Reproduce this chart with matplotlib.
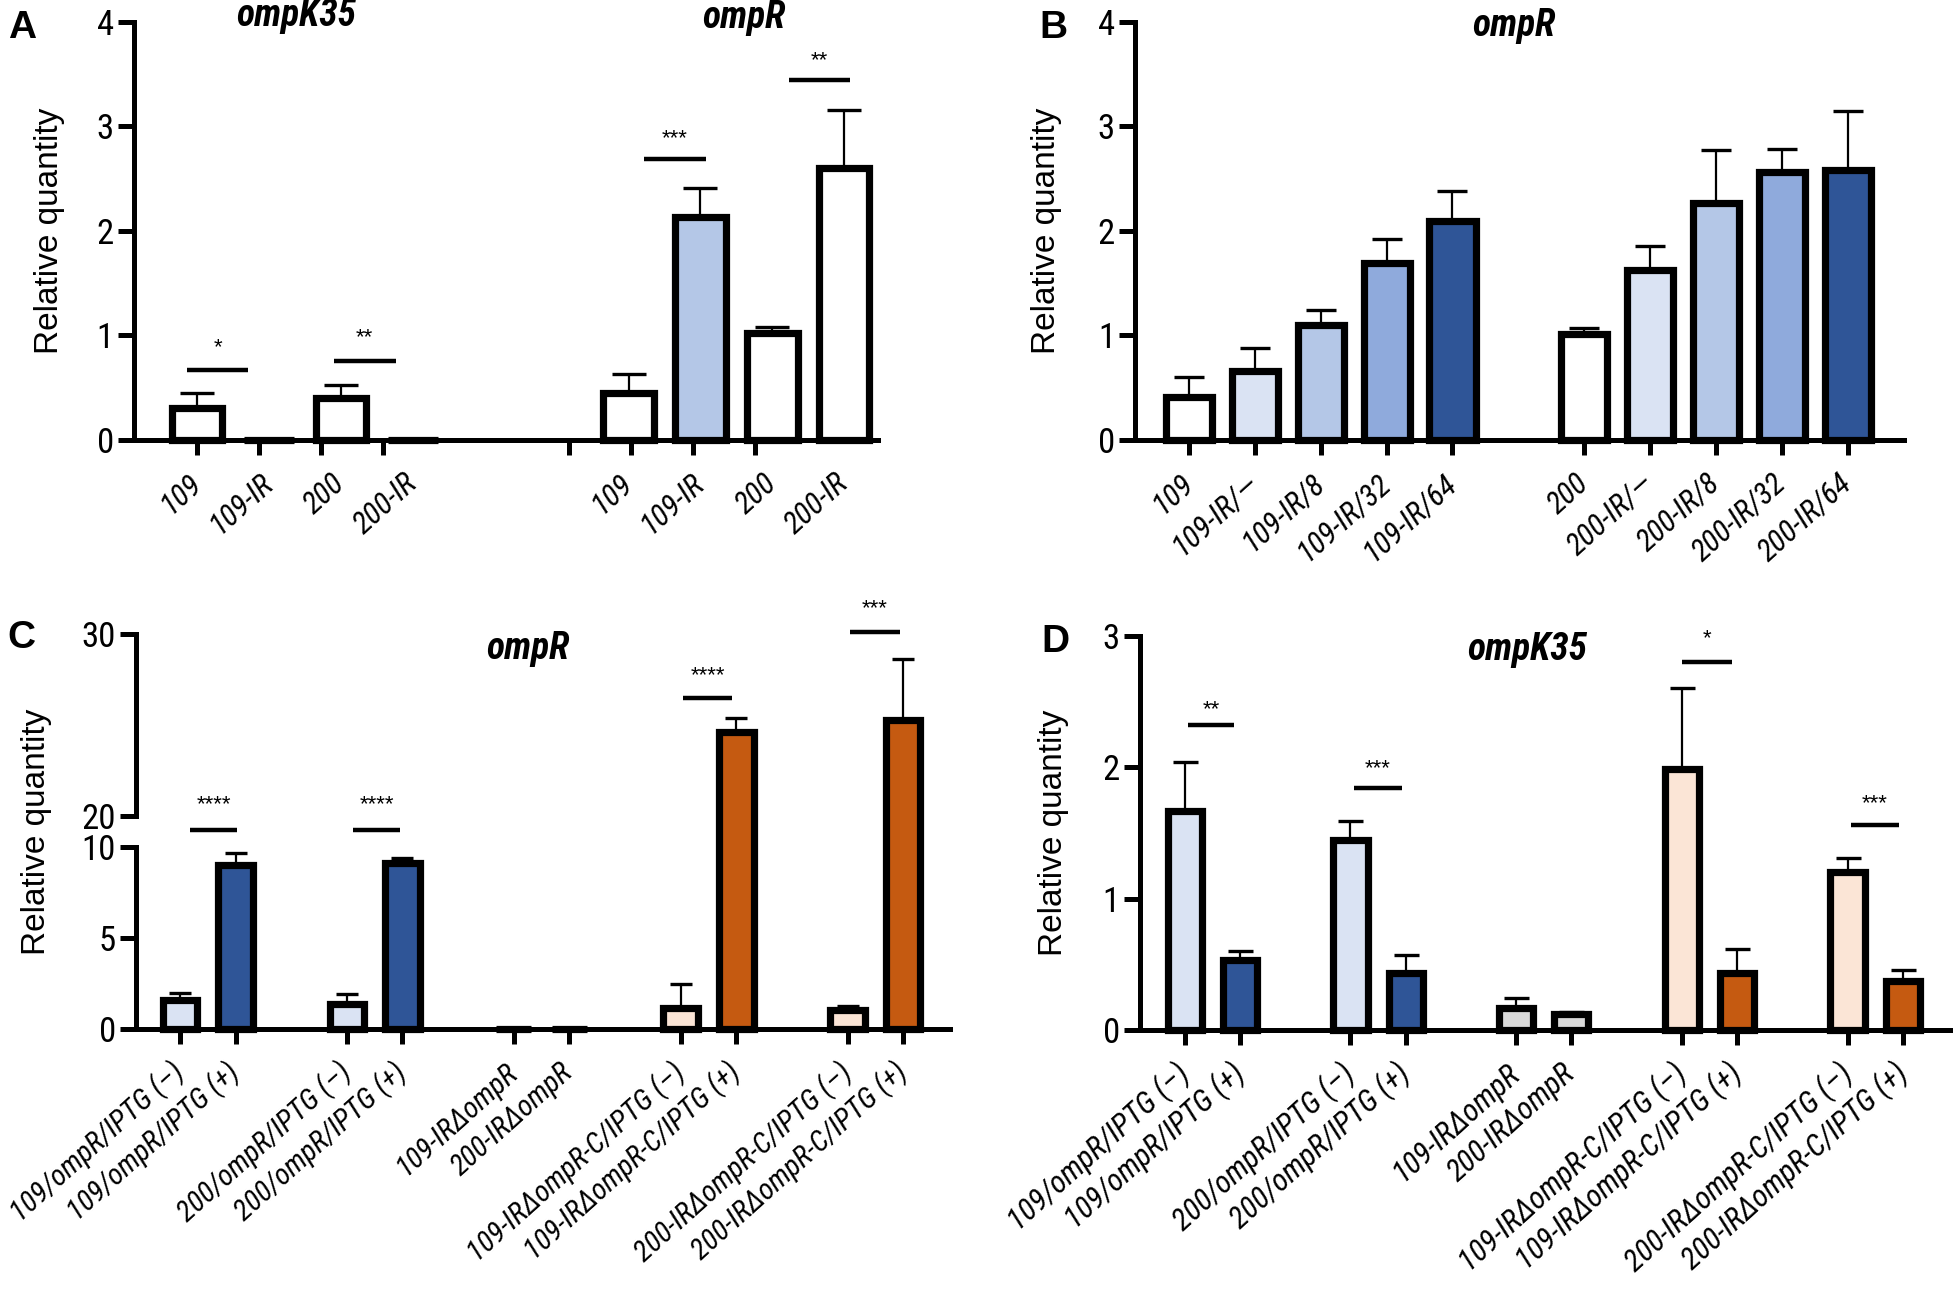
import numpy as np
import matplotlib
matplotlib.use("Agg")
import matplotlib.pyplot as plt
from matplotlib import font_manager


def pick_font(candidates):
    for name in candidates:
        styles = {f.style for f in font_manager.fontManager.ttflist if f.name == name}
        if "italic" in styles or "oblique" in styles:
            return name
    return "Liberation Sans"


NARROW = pick_font(["Liberation Sans Narrow", "Arial Narrow", "Roboto Condensed",
                    "Archivo Narrow", "PT Sans Narrow", "Sofia Sans Semi Condensed",
                    "Sofia Sans Condensed"])
REGULAR = "Liberation Sans"

plt.rcParams["font.family"] = [NARROW, "DejaVu Sans"]

WHITE = "#ffffff"
PALE_BLUE = "#dae3f3"
LIGHT_BLUE = "#b4c7e7"
MID_BLUE = "#8faadc"
DARK_BLUE = "#2f5597"
PEACH = "#fbe5d6"
ORANGE = "#c55a11"
GREY = "#d9d9d9"

# ---- panel A ----
A_POS = [0, 1, 2, 3, 6, 7, 8, 9]
A_TICK_POS = [0, 0.86, 1.72, 2.58, 5.17, 6.03, 6.89, 7.76]
A_LABELS = ["109", "109-IR", "200", "200-IR", "109", "109-IR", "200", "200-IR"]
A_VALUES = [0.31, 0.0, 0.40, 0.0, 0.45, 2.13, 1.02, 2.60]
A_ERRORS = [0.14, 0.0, 0.13, 0.0, 0.18, 0.28, 0.06, 0.56]
A_COLORS = [WHITE, WHITE, WHITE, WHITE, WHITE, LIGHT_BLUE, WHITE, WHITE]
A_SIG = [
    (-0.14, 0.71, 0.67, "*", 0.88),
    (1.90, 2.76, 0.76, "**", 0.98),
    (6.21, 7.08, 2.69, "***", 2.88),
    (8.23, 9.08, 3.44, "**", 3.63),
]
A_TITLES = [(1.38, 4.06, "ompK35"), (7.6, 4.04, "ompR")]

# ---- panel B ----
B_POS = [0, 1, 2, 3, 4, 6, 7, 8, 9, 10]
B_LABELS = ["109", "109-IR/\u2014", "109-IR/8", "109-IR/32", "109-IR/64",
            "200", "200-IR/\u2014", "200-IR/8", "200-IR/32", "200-IR/64"]
B_VALUES = [0.41, 0.66, 1.10, 1.69, 2.10, 1.01, 1.63, 2.27, 2.56, 2.58]
B_ERRORS = [0.19, 0.22, 0.14, 0.23, 0.28, 0.06, 0.23, 0.50, 0.22, 0.57]
B_COLORS = [WHITE, PALE_BLUE, LIGHT_BLUE, MID_BLUE, DARK_BLUE,
            WHITE, PALE_BLUE, LIGHT_BLUE, MID_BLUE, DARK_BLUE]
B_TITLES = [(4.93, 3.97, "ompR")]

# ---- panels C and D ----
CD_POS = [0, 1, 3, 4, 6, 7, 9, 10, 12, 13]
CD_LABELS = [
    "109/ompR/IPTG (\u2013)", "109/ompR/IPTG (+)",
    "200/ompR/IPTG (\u2013)", "200/ompR/IPTG (+)",
    "109-IR\u0394ompR", "200-IR\u0394ompR",
    "109-IR\u0394ompR-C/IPTG (\u2013)", "109-IR\u0394ompR-C/IPTG (+)",
    "200-IR\u0394ompR-C/IPTG (\u2013)", "200-IR\u0394ompR-C/IPTG (+)",
]
CD_COLORS = [PALE_BLUE, DARK_BLUE, PALE_BLUE, DARK_BLUE, GREY, GREY,
             PEACH, ORANGE, PEACH, ORANGE]

C_VALUES = [1.58, 9.0, 1.40, 9.1, 0.0, 0.0, 1.13, 24.6, 1.03, 25.3]
C_ERRORS = [0.38, 0.67, 0.53, 0.30, 0.0, 0.0, 1.37, 0.80, 0.23, 3.30]
C_SIG = [
    (0.19, 1.03, 15.5, "****", 20.6),
    (3.11, 3.96, 15.5, "****", 20.6),
    (9.04, 9.93, 26.5, "****", 27.7),
    (12.04, 12.94, 30.1, "***", 31.4),
]
C_TITLES = [(6.26, 29.2, "ompR")]

D_VALUES = [1.67, 0.53, 1.45, 0.43, 0.17, 0.12, 1.99, 0.43, 1.20, 0.375]
D_ERRORS = [0.37, 0.07, 0.14, 0.14, 0.075, 0.02, 0.61, 0.19, 0.11, 0.08]
D_SIG = [
    (0.06, 0.90, 2.32, "**", 2.44),
    (3.07, 3.93, 1.84, "***", 1.99),
    (9.01, 9.91, 2.80, "*", 2.98),
    (12.06, 12.94, 1.56, "***", 1.72),
]
D_TITLES = [(6.2, 2.90, "ompK35")]

GAP = 1.7  # height of the axis break in panel C, in data units


def broken_forward(y):
    y = np.asarray(y, dtype=float)
    return np.where(y <= 10, y,
                    np.where(y >= 20, y - 10 + GAP, 10 + (y - 10) * GAP / 10))


def broken_inverse(z):
    z = np.asarray(z, dtype=float)
    return np.where(z <= 10, z,
                    np.where(z >= 10 + GAP, z + 10 - GAP, 10 + (z - 10) * 10 / GAP))


def draw_panel(ax, positions, values, errors, colors, labels, tick_pos,
               width, capsize, label_x, label_size):
    ax.errorbar(positions, values, yerr=[np.zeros(len(errors)), errors],
                fmt="none", ecolor="black", elinewidth=1.6, capsize=capsize,
                capthick=2.4, zorder=2, clip_on=False)
    ax.bar(positions, values, width=width, color=colors, edgecolor="black",
           linewidth=5.2, zorder=3, clip_on=False)

    for side in ["top", "right"]:
        ax.spines[side].set_visible(False)
    for side in ["left", "bottom"]:
        ax.spines[side].set_linewidth(3.6)

    ax.xaxis.remove_overlapping_locs = False
    ax.set_xticks(positions)
    ax.set_xticklabels(labels, rotation=42, ha="right", va="center",
                       rotation_mode="anchor", fontstyle="italic",
                       fontsize=label_size)
    ax.tick_params(axis="x", which="major", length=0, pad=28)
    ax.set_xticks(tick_pos, minor=True)
    ax.tick_params(axis="x", which="minor", length=11, width=3.6)
    ax.tick_params(axis="y", length=11.5, width=3.6, labelsize=25, pad=3)

    ax.set_ylabel("Relative quantity", fontsize=24, family=REGULAR)
    ax.yaxis.set_label_coords(label_x, 0.5)


def add_sig(ax, sig):
    for x0, x1, y, stars, ty in sig:
        ax.plot([x0, x1], [y, y], color="black", lw=3.2, clip_on=False,
                solid_capstyle="butt")
        ax.text((x0 + x1) / 2, ty, stars, ha="center", va="center",
                fontsize=16, family=REGULAR, clip_on=False)


def add_titles(ax, titles):
    for x, y, name in titles:
        ax.text(x, y, name, ha="center", va="center", fontsize=27,
                fontstyle="italic", fontweight="bold", clip_on=False)


fig = plt.figure(figsize=(19.53, 12.91), dpi=100)

ax_a = fig.add_axes([0.0686, 0.6592, 0.381, 0.3238])
ax_b = fig.add_axes([0.5812, 0.6592, 0.3938, 0.3238])
ax_c = fig.add_axes([0.0696, 0.2029, 0.4168, 0.3060])
ax_d = fig.add_axes([0.5837, 0.2022, 0.4163, 0.3052])

# A
draw_panel(ax_a, A_POS, A_VALUES, A_ERRORS, A_COLORS, A_LABELS, A_TICK_POS,
           0.70, 12, -0.093, 22)
ax_a.set_xlim(-0.88, 9.47)
ax_a.set_ylim(0, 4)
ax_a.set_yticks([0, 1, 2, 3, 4])
add_sig(ax_a, A_SIG)
add_titles(ax_a, A_TITLES)

# B
draw_panel(ax_b, B_POS, B_VALUES, B_ERRORS, B_COLORS, B_LABELS, B_POS,
           0.70, 11, -0.095, 22)
ax_b.set_xlim(-0.82, 10.86)
ax_b.set_ylim(0, 4)
ax_b.set_yticks([0, 1, 2, 3, 4])
add_titles(ax_b, B_TITLES)

# C (broken y axis between 10 and 20)
ax_c.set_yscale("function", functions=(broken_forward, broken_inverse))
draw_panel(ax_c, CD_POS, C_VALUES, C_ERRORS, CD_COLORS, CD_LABELS, CD_POS,
           0.62, 8, -0.103, 21)
ax_c.set_xlim(-0.79, 13.84)
ax_c.set_ylim(0, 30)
ax_c.set_yticks([0, 5, 10, 20, 30])
ax_c.spines["left"].set_visible(False)
for lo, hi in [(0, 10), (20, 30)]:
    ax_c.plot([0, 0], [lo, hi], transform=ax_c.get_yaxis_transform(),
              color="black", lw=3.6, clip_on=False, solid_capstyle="projecting")
add_sig(ax_c, C_SIG)
add_titles(ax_c, C_TITLES)

# D
draw_panel(ax_d, CD_POS, D_VALUES, D_ERRORS, CD_COLORS, CD_LABELS, CD_POS,
           0.62, 9, -0.087, 22)
ax_d.set_xlim(-0.81, 13.91)
ax_d.set_ylim(0, 3)
ax_d.set_yticks([0, 1, 2, 3])
add_sig(ax_d, D_SIG)
add_titles(ax_d, D_TITLES)

for letter, x, y in [("A", 0.004, 0.992), ("B", 0.532, 0.992),
                     ("C", 0.004, 0.520), ("D", 0.533, 0.517)]:
    fig.text(x, y, letter, ha="left", va="top", fontsize=28,
             fontweight="bold", family=REGULAR)

fig.savefig("out.png", dpi=100)
